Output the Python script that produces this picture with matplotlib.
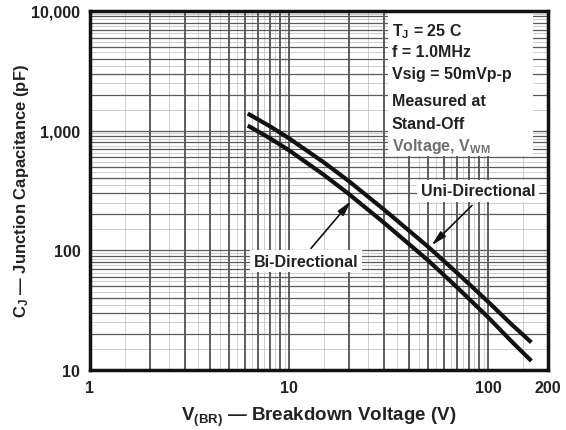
import matplotlib
matplotlib.use("Agg")
import matplotlib.pyplot as plt
import numpy as np
from matplotlib.ticker import FixedLocator, FixedFormatter, LogLocator, NullFormatter
from matplotlib.patches import Rectangle

# ---- data ----
v_uni = [6.2, 8, 10, 15, 20, 30, 50, 70, 100, 130, 165]
c_uni = [1390, 1090, 863, 541, 378, 219, 107, 64.6, 37.2, 24.4, 17.0]
v_bi = [6.2, 8, 10, 15, 20, 30, 50, 70, 100, 130, 165]
c_bi = [1103, 866, 685, 426, 295, 170, 82.3, 48.9, 27.6, 17.6, 11.9]

x_ticks = [1, 10, 100, 200]
x_ticklabels = ["1", "10", "100", "200"]
y_ticks = [10, 100, 1000, 10000]
y_ticklabels = ["10", "100", "1,000", "10,000"]

cond_lines = [r"T$_\mathrm{J}$ = 25 C", "f = 1.0MHz", "Vsig = 50mVp-p",
              "Measured at", "Stand-Off", r"Voltage, V$_\mathrm{WM}$"]

plt.rcParams["font.family"] = ["Liberation Sans", "DejaVu Sans"]
plt.rcParams["font.weight"] = "bold"
plt.rcParams["mathtext.fontset"] = "custom"
plt.rcParams["mathtext.rm"] = "Liberation Sans:bold"
plt.rcParams["mathtext.it"] = "Liberation Sans:bold"
plt.rcParams["mathtext.bf"] = "Liberation Sans:bold"

fig = plt.figure(figsize=(5.66, 4.31), dpi=100)
ax = fig.add_axes([90/566, 1-371/431, 458/566, 359/431])
ax.set_xscale("log")
ax.set_yscale("log")
ax.set_xlim(1, 200)
ax.set_ylim(10, 10000)

# grid
ax.xaxis.set_major_locator(FixedLocator(x_ticks))
ax.xaxis.set_major_formatter(FixedFormatter(x_ticklabels))
ax.yaxis.set_major_locator(FixedLocator(y_ticks))
ax.yaxis.set_major_formatter(FixedFormatter(y_ticklabels))
ax.xaxis.set_minor_locator(LogLocator(base=10, subs=np.arange(2, 10)))
ax.yaxis.set_minor_locator(LogLocator(base=10, subs=np.arange(2, 10)))
ax.xaxis.set_minor_formatter(NullFormatter())
ax.yaxis.set_minor_formatter(NullFormatter())
ax.grid(axis="x", which="both", color="#333333", lw=1.1, zorder=0)
ax.grid(axis="y", which="both", color="#5a5a5a", lw=0.9, zorder=0)
# faint secondary lines
for dec in [1, 10, 100]:
    for s in np.arange(1.5, 10, 1.0):
        xv = dec * s
        if xv < 200:
            ax.axvline(xv, color="#c8c8c8", lw=0.6, zorder=0)
for dec in [10, 100, 1000]:
    for s in np.arange(1.5, 10, 1.0):
        ax.axhline(dec * s, color="#c4c4c4", lw=0.6, zorder=0)

ax.tick_params(which="both", length=0, labelsize=11.5, colors="#222222", pad=7)
for lab in ax.get_xticklabels() + ax.get_yticklabels():
    lab.set_fontweight("bold")
for sp in ax.spines.values():
    sp.set_linewidth(2.5)
    sp.set_color("#111111")
    sp.set_zorder(5)

# curves
ax.plot(v_uni, c_uni, color="#111111", lw=3.0, zorder=4, solid_capstyle="butt")
ax.plot(v_bi, c_bi, color="#111111", lw=3.0, zorder=4, solid_capstyle="butt")

# condition box
ax.add_patch(Rectangle((0.651, 0.596), 0.316, 0.40, transform=ax.transAxes,
                       facecolor="white", edgecolor="none", zorder=2))
ys = [0.944, 0.887, 0.825, 0.750, 0.687, 0.625]
for i, (t, y) in enumerate(zip(cond_lines, ys)):
    col = "#707070" if i == len(cond_lines) - 1 else "#222222"
    ax.text(0.659, y, t, transform=ax.transAxes, fontsize=11.5, fontweight="bold",
            color=col, va="center", ha="left", zorder=3)

# labels with arrows
arrow = dict(arrowstyle="-|>,head_length=0.9,head_width=0.22", color="#111111",
             lw=1.2, shrinkA=0, shrinkB=0)
ax.annotate("", xy=(52, 110), xytext=(83, 237), arrowprops=arrow, zorder=6)
ax.text(89, 316, "Uni-Directional", fontsize=11.5, fontweight="bold", color="#222222",
        ha="center", va="center", zorder=3,
        bbox=dict(facecolor="white", edgecolor="none", pad=2.5))
ax.annotate("", xy=(20.5, 258), xytext=(12.9, 104), arrowprops=arrow, zorder=6)
ax.text(12.2, 81, "Bi-Directional", fontsize=11.5, fontweight="bold", color="#222222",
        ha="center", va="center", zorder=3,
        bbox=dict(facecolor="white", edgecolor="none", pad=2.5))

ax.set_xlabel(r"V$_\mathrm{(BR)}$ — Breakdown Voltage (V)", fontsize=13.5,
              fontweight="bold", color="#222222", labelpad=7)
ax.set_ylabel(r"C$_\mathrm{J}$ — Junction Capacitance (pF)", fontsize=12,
              fontweight="bold", color="#222222")
ax.yaxis.set_label_coords(-0.128, 0.5)

fig.savefig("out.png", dpi=100, facecolor="white")
